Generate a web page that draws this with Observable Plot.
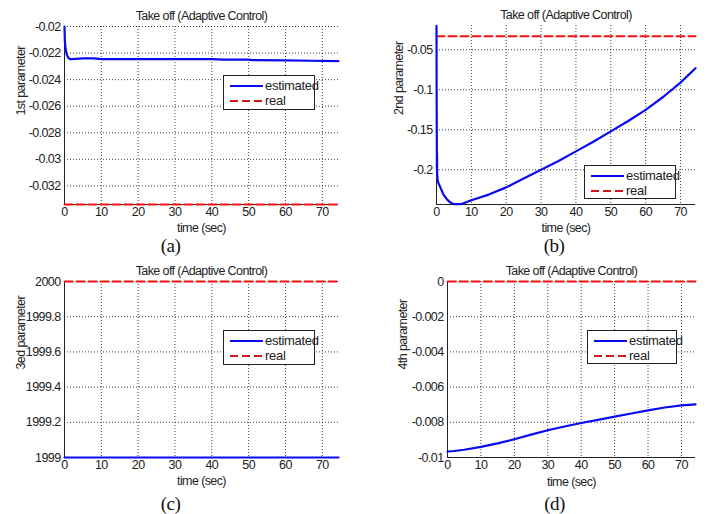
<!DOCTYPE html>
<html>
<head>
<meta charset="utf-8">
<script src="https://cdn.jsdelivr.net/npm/d3@7"></script>
<script src="https://cdn.jsdelivr.net/npm/@observablehq/plot@0.6"></script>
<style>
  html, body { margin: 0; padding: 0; background: #fff; }
  #root { position: relative; width: 707px; height: 514px; overflow: hidden; background: #fff; font-family: "Liberation Sans", Arial, sans-serif; }
  .panel { position: absolute; }
  .legend { position: absolute; border: 1px solid #222; background: #fff; box-sizing: border-box; font-size: 13px; letter-spacing: -0.3px; color: #222; }
  .legend .row { position: absolute; left: 0; height: 14px; line-height: 14px; white-space: nowrap; }
  .legend svg { position: absolute; left: 6px; top: 0; }
  .legend span { position: absolute; left: 41px; top: 0; }
</style>
</head>
<body>
<div id="root"></div>
<script>
// ---------- data ----------
const titleText = "Take off (Adaptive Control)";
const xLabel = "time (sec)";
const xTicks = [0, 10, 20, 30, 40, 50, 60, 70];
const legendLabels = ["estimated", "real"];

// panel (a)
const aTime = [0, 0.1, 0.3, 0.6, 1.0, 1.5, 2, 5, 8, 10, 20, 30, 40, 43, 50, 51, 60, 67, 74.4];
const aEstimated = [-0.0200, -0.0211, -0.0217, -0.0221, -0.02235, -0.02245, -0.02245, -0.0224, -0.0224, -0.02245, -0.02245, -0.02245, -0.02245, -0.0225, -0.0225, -0.02253, -0.02255, -0.02258, -0.0226];
const aReal = -0.0334;
const aYTicks = [-0.032, -0.03, -0.028, -0.026, -0.024, -0.022, -0.02];
const aYDomain = [-0.0334, -0.02];

// panel (b)
const bTime = [0, 0.05, 0.12, 0.15, 0.2, 0.3, 0.5, 0.8, 1.2, 2, 3, 4, 5, 7, 10, 15, 20, 25, 30, 35, 40, 45, 50, 55, 60, 65, 70, 74.3];
const bEstimated = [-0.02, -0.12, -0.2, -0.18, -0.205, -0.212, -0.216, -0.219, -0.223, -0.231, -0.237, -0.241, -0.243, -0.243, -0.238, -0.231, -0.222, -0.211, -0.2, -0.189, -0.177, -0.165, -0.152, -0.139, -0.125, -0.109, -0.091, -0.073];
const bReal = -0.033;
const bYTicks = [-0.2, -0.15, -0.1, -0.05];
const bYDomain = [-0.2434, -0.0196];

// panel (c)
const cTime = [0, 74.4];
const cEstimated = [1999, 1999];
const cReal = 2000;
const cYTicks = [1999, 1999.2, 1999.4, 1999.6, 1999.8, 2000];
const cYDomain = [1999, 2000];

// panel (d)
const dTime = [0, 2, 5, 10, 15, 20, 25, 30, 35, 40, 45, 50, 55, 60, 65, 70, 74.2];
const dEstimated = [-0.00966, -0.00963, -0.00956, -0.0094, -0.0092, -0.00896, -0.0087, -0.00845, -0.00824, -0.00804, -0.00786, -0.00768, -0.0075, -0.00732, -0.00716, -0.00704, -0.00698];
const dReal = 0;
const dYTicks = [-0.01, -0.008, -0.006, -0.004, -0.002, 0];
const dYDomain = [-0.01, 0];

// ---------- drawing ----------
const root = document.getElementById("root");
const FS = 12.5;
const FONT = "'Liberation Sans', Arial, sans-serif";

function panel(cfg) {
  const est = cfg.time.map((t, i) => ({t, v: cfg.est[i]}));
  const xMax = cfg.time[cfg.time.length - 1];
  const real = [{t: 0, v: cfg.real}, {t: xMax, v: cfg.real}];
  const gridXs = xTicks.filter(d => d > 0);
  const gridYs = cfg.yTicks.filter(d => d > cfg.yDomain[0]);
  const chart = Plot.plot({
    width: cfg.w, height: cfg.h,
    marginLeft: cfg.ml, marginRight: cfg.mr, marginTop: cfg.mt, marginBottom: cfg.mb,
    style: {fontFamily: FONT, fontSize: FS + "px", letterSpacing: "-0.6px", color: "#222", background: "transparent", overflow: "visible"},
    x: {domain: [0, xMax], ticks: xTicks, tickSize: 0, tickPadding: 3, label: null, tickFormat: d => String(d)},
    y: {domain: cfg.yDomain, ticks: cfg.yTicks, tickSize: 0, tickPadding: 4, label: null, tickFormat: d => String(d)},
    marks: [
      Plot.ruleX(gridXs, {stroke: "#222", strokeWidth: 1, strokeDasharray: "1,2", strokeOpacity: 0.85}),
      Plot.ruleY(gridYs, {stroke: "#222", strokeWidth: 1, strokeDasharray: "1,2", strokeOpacity: 0.85}),
      Plot.ruleY([cfg.yDomain[0]], {stroke: "#222", strokeWidth: 1}),
      Plot.ruleX([0], {stroke: "#222", strokeWidth: 1}),
      Plot.line(real, {x: "t", y: "v", stroke: "#f01010", strokeWidth: 2, strokeDasharray: "8,4"}),
      Plot.line(est, {x: "t", y: "v", stroke: "#0a0af0", strokeWidth: 2.2, curve: "linear"}),
      Plot.text([titleText], {frameAnchor: "top", dy: -11, lineAnchor: "middle", fontSize: FS, fill: "#222"}),
      Plot.text([xLabel], {frameAnchor: "bottom", dy: cfg.xlDy, lineAnchor: "middle", fontSize: FS, fill: "#222"}),
      Plot.text([cfg.ylabel], {frameAnchor: "left", dx: cfg.ylDx, rotate: -90, lineAnchor: "middle", fontSize: FS, fill: "#222"}),
      Plot.text([cfg.tag], {frameAnchor: "bottom", dx: cfg.tagDx, dy: cfg.tagDy, lineAnchor: "middle", fontSize: 19, fontFamily: "Liberation Serif, Times New Roman, serif", fill: "#111"})
    ]
  });
  const div = document.createElement("div");
  div.className = "panel";
  div.style.left = cfg.left + "px";
  div.style.top = cfg.top + "px";
  div.appendChild(chart);
  root.appendChild(div);

  // legend box
  const lg = document.createElement("div");
  lg.className = "legend";
  lg.style.left = cfg.lg[0] + "px";
  lg.style.top = cfg.lg[1] + "px";
  lg.style.width = cfg.lg[2] + "px";
  lg.style.height = cfg.lg[3] + "px";
  const styles = [
    '<line x1="0" x2="33" y1="7" y2="7" stroke="#0a0af0" stroke-width="2"/>',
    '<line x1="0" x2="33" y1="7" y2="7" stroke="#d01818" stroke-width="2" stroke-dasharray="8,4"/>'
  ];
  legendLabels.forEach((lab, i) => {
    const row = document.createElement("div");
    row.className = "row";
    row.style.top = (3 + i * 15) + "px";
    row.style.width = "100%";
    row.innerHTML = '<svg width="36" height="14">' + styles[i] + '</svg><span>' + lab + '</span>';
    lg.appendChild(row);
  });
  root.appendChild(lg);
}

panel({left: 0, top: 0, w: 353, h: 257, ml: 64, mr: 15, mt: 26, mb: 53,
  time: aTime, est: aEstimated, real: aReal, yTicks: aYTicks, yDomain: aYDomain,
  ylabel: "1st parameter", tag: "(a)", ylDx: -44, xlDy: 23, tagDx: -31, tagDy: 41,
  lg: [223, 75, 92, 35]});
panel({left: 360, top: 0, w: 347, h: 257, ml: 76, mr: 12, mt: 25, mb: 53,
  time: bTime, est: bEstimated, real: bReal, yTicks: bYTicks, yDomain: bYDomain,
  ylabel: "2nd parameter", tag: "(b)", ylDx: -38, xlDy: 23, tagDx: -12, tagDy: 41,
  lg: [584, 165, 92, 34]});
panel({left: 0, top: 257, w: 353, h: 257, ml: 64, mr: 15, mt: 24, mb: 57,
  time: cTime, est: cEstimated, real: cReal, yTicks: cYTicks, yDomain: cYDomain,
  ylabel: "3ed parameter", tag: "(c)", ylDx: -44, xlDy: 23, tagDx: -31, tagDy: 46,
  lg: [223, 330, 92, 35]});
panel({left: 360, top: 257, w: 347, h: 257, ml: 87, mr: 12, mt: 24, mb: 57,
  time: dTime, est: dEstimated, real: dReal, yTicks: dYTicks, yDomain: dYDomain,
  ylabel: "4th parameter", tag: "(d)", ylDx: -45, xlDy: 24, tagDx: -17, tagDy: 46,
  lg: [587, 330, 90, 34]});
</script>
</body>
</html>
